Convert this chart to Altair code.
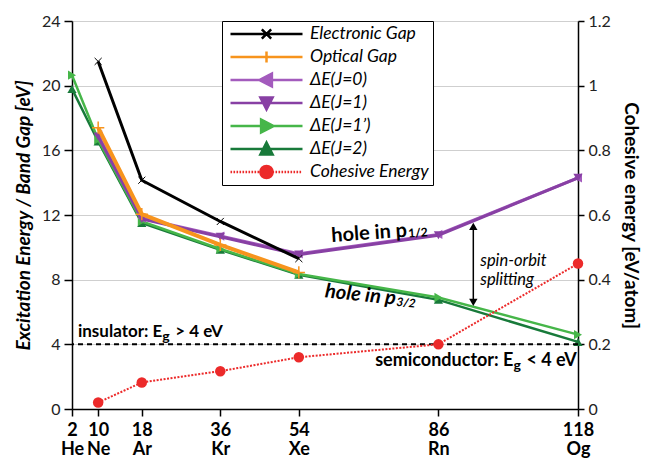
import altair as alt
import pandas as pd

# ---------------- data ----------------
elements = ["He", "Ne", "Ar", "Kr", "Xe", "Rn", "Og"]
atomic_numbers = ["2", "10", "18", "36", "54", "86", "118"]
x_position = [2, 8, 18, 36, 54, 86, 118]          # horizontal position used in the figure

electronic_gap = [None, 21.5, 14.15, 11.6, 9.3, None, None]
optical_gap = [None, 17.4, 12.05, 10.15, 8.45, None, None]
dE_J0 = [None, 16.95, 11.8, 10.7, 9.6, 10.8, 14.3]
dE_J1 = [None, 16.85, 11.75, 10.65, 9.55, 10.75, 14.3]
dE_J1p = [20.65, 16.65, 11.6, 9.9, 8.35, 6.9, 4.6]
dE_J2 = [19.8, 16.55, 11.5, 9.85, 8.3, 6.75, 4.15]
cohesive = [None, 0.02, 0.082, 0.117, 0.16, 0.2, 0.45]

series_names = ["Electronic Gap", "Optical Gap", "ΔE(J=0)", "ΔE(J=1)",
                "ΔE(J=1’)", "ΔE(J=2)", "Cohesive Energy"]
threshold = [4]

left_ticks = [0, 4, 8, 12, 16, 20, 24]
right_ticks = [0, 0.2, 0.4, 0.6, 0.8, 1.0, 1.2]

# ---------------- styles ----------------
colors = ["#000000", "#f7941d", "#a35bbd", "#8840a4", "#46b649", "#187a3a", "#ec2a2a"]
FONT = "Lato"

X_MARK = "M-1,-1L1,1M-1,1L1,-1"
PLUS_MARK = "M-1,0L1,0M0,-1L0,1"


def dotted(n=24):
    segs = []
    for i in range(n):
        a = -1 + i * 3 / 36
        segs.append(f"M{a:.3f},0L{a + 1.6 / 36:.3f},0")
    return "".join(segs)


LINE = "M-1,0L1,0"
legend_paths = [
    LINE + "M-0.13,-0.13L0.13,0.13M-0.13,0.13L0.13,-0.13",
    LINE + "M0,-0.15L0,0.15",
    LINE + "M-0.2,0L0.15,-0.18L0.15,0.18Z",
    LINE + "M-0.17,-0.15L0.17,-0.15L0,0.18Z",
    LINE + "M0.2,0L-0.15,-0.18L-0.15,0.18Z",
    LINE + "M-0.17,0.15L0.17,0.15L0,-0.18Z",
    dotted() + "M0.17,0A0.17,0.17 0 1,1 -0.17,0A0.17,0.17 0 1,1 0.17,0Z",
]

label_expr = ""
for xp, num, el in zip(x_position, atomic_numbers, elements):
    label_expr += f"datum.value == {xp} ? ['{num}', '{el}'] : "
label_expr += "''"

x_enc = alt.X(
    "x:Q",
    scale=alt.Scale(domain=[2, 118], nice=False, zero=False),
    axis=alt.Axis(values=x_position, labelExpr=label_expr, title=None, grid=False,
                  labelFontWeight="bold", labelFontSize=18, labelLineHeight=19.5,
                  labelFlush=False, labelOverlap=False, tickSize=7, labelPadding=5,
                  labelBaseline="top", domainColor="black", tickColor="black",
                  labelColor="black", domainWidth=1.5, tickWidth=1.5, labelFont=FONT),
)

y_left = alt.Y(
    "v:Q",
    scale=alt.Scale(domain=[0, 24], nice=False),
    axis=alt.Axis(values=left_ticks, title="Excitation Energy / Band Gap [eV]",
                  titleFontStyle="italic", titleFontWeight="bold", titleFontSize=19,
                  titleColor="black", titlePadding=8, titleFont=FONT,
                  grid=True, gridColor="#cfcfcf", gridWidth=1.2, tickSize=8,
                  labelFontSize=16, labelColor="#222", labelPadding=4, labelFont=FONT,
                  domainColor="black", tickColor="black", domainWidth=1.5, tickWidth=1.5),
)

y_right = alt.Y(
    "c:Q",
    scale=alt.Scale(domain=[0, 1.2], nice=False),
    axis=alt.Axis(orient="right", values=right_ticks, format=".1~f",
                  title="Cohesive energy [eV/atom]", titleFontWeight="bold",
                  titleFontSize=19, titleColor="black", titlePadding=10, titleFont=FONT,
                  grid=False, tickSize=6, labelFontSize=16, labelColor="#222",
                  labelPadding=4, labelFont=FONT, domainColor="black", tickColor="black",
                  domainWidth=1.5, tickWidth=1.5),
)


def frame(vals, col="v"):
    rows = [{"x": xp, col: v} for xp, v in zip(x_position, vals) if v is not None]
    return pd.DataFrame(rows)


def series(vals, color, width, shape, size, filled=True, pw=1.0):
    df = frame(vals)
    base = alt.Chart(df).encode(x=x_enc, y=y_left)
    line = base.mark_line(color=color, strokeWidth=width)
    pts = base.mark_point(shape=shape, size=size, filled=filled, color=color,
                          opacity=1, strokeWidth=pw)
    return [line, pts]


left_layers = []
left_layers += series(dE_J2, colors[5], 2.5, "triangle-up", 85)
left_layers += series(dE_J1p, colors[4], 2.5, "triangle-right", 85)
left_layers += series(dE_J0, colors[2], 3, "triangle-left", 85)
left_layers += series(dE_J1, colors[3], 3, "triangle-down", 85)
left_layers += series(optical_gap, colors[1], 4, PLUS_MARK, 150, filled=False, pw=1.5)
left_layers += series(electronic_gap, colors[0], 3, X_MARK, 50, filled=False, pw=1)

# dashed 4 eV threshold
left_layers.append(
    alt.Chart(pd.DataFrame({"v": threshold})).mark_rule(
        color="black", strokeDash=[5, 4], strokeWidth=2).encode(y=y_left)
)

# spin-orbit arrow
arrow_df = pd.DataFrame({"x": [94], "v": [11.3], "v2": [6.6]})
left_layers.append(
    alt.Chart(arrow_df).mark_rule(color="black", strokeWidth=1.5).encode(
        x=x_enc, y=y_left, y2=alt.Y2("v2"))
)
left_layers.append(
    alt.Chart(pd.DataFrame({"x": [94], "v": [11.3]})).mark_point(
        shape="triangle-up", size=70, filled=True, color="black", opacity=1).encode(x=x_enc, y=y_left)
)
left_layers.append(
    alt.Chart(pd.DataFrame({"x": [94], "v": [6.6]})).mark_point(
        shape="triangle-down", size=70, filled=True, color="black", opacity=1).encode(x=x_enc, y=y_left)
)


def label(x, v, text, **kw):
    props = dict(font=FONT, color="black", baseline="alphabetic")
    props.update(kw)
    return alt.Chart(pd.DataFrame({"x": [x], "v": [v]})).mark_text(text=text, **props).encode(
        x=x_enc, y=y_left)


# hole in p1/2
left_layers.append(label(78.9, 10.66, "hole in p", align="right", angle=356,
                         fontSize=20, fontWeight="bold"))
left_layers.append(label(78.9, 10.66, "1/2", align="left", angle=356, dx=1, dy=1,
                         fontSize=12, fontWeight="bold"))
# hole in p3/2
left_layers.append(label(76.1, 6.45, "hole in p", align="right", angle=6,
                         fontSize=20, fontWeight="bold", fontStyle="italic"))
left_layers.append(label(76.1, 6.45, "3/2", align="left", angle=6, dx=1, dy=1,
                         fontSize=12, fontWeight="bold", fontStyle="italic"))
# spin-orbit splitting
left_layers.append(label(95.6, 9.16, ["spin-orbit", "splitting"], align="left",
                         baseline="middle", fontSize=16.5, fontStyle="italic", lineHeight=19))
# insulator
left_layers.append(label(22.7, 4.48, "insulator: E", align="right",
                         fontSize=17, fontWeight="bold"))
left_layers.append(label(22.7, 4.48, "g", align="left", dy=4, fontSize=14, fontWeight="bold"))
left_layers.append(label(22.7, 4.48, "> 4 eV", align="left", dx=13, fontSize=17, fontWeight="bold"))
# semiconductor
left_layers.append(label(103.2, 2.63, "semiconductor: E", align="right",
                         fontSize=18, fontWeight="bold"))
left_layers.append(label(103.2, 2.63, "g", align="left", dy=4, fontSize=14, fontWeight="bold"))
left_layers.append(label(103.2, 2.63, "< 4 eV", align="left", dx=13, fontSize=18, fontWeight="bold"))

# legend (driven by explicit scale domains, no marks drawn)
legend_src = pd.DataFrame({"series": series_names, "x": x_position, "v": left_ticks})
leg = alt.Legend(title=None, orient="none", legendX=150, legendY=0, symbolSize=5184,
                 clipHeight=18, rowPadding=5, padding=4, symbolOffset=3, labelOffset=6,
                 labelFontSize=17.5, labelFontStyle="italic", labelFont=FONT,
                 labelColor="black", fillColor="white", strokeColor="black",
                 symbolStrokeWidth=2.5, labelLimit=300)
left_layers.append(
    alt.Chart(legend_src).transform_filter("false").mark_point(
        filled=True, opacity=1, strokeWidth=2.5).encode(
        x=x_enc, y=y_left,
        fill=alt.Fill("series:N", scale=alt.Scale(domain=series_names, range=colors), legend=leg),
        stroke=alt.Stroke("series:N", scale=alt.Scale(domain=series_names, range=colors), legend=leg),
        shape=alt.Shape("series:N", scale=alt.Scale(domain=series_names, range=legend_paths), legend=leg),
    )
)

left = alt.layer(*left_layers)

coh_df = frame(cohesive, "c")
coh_base = alt.Chart(coh_df).encode(x=x_enc, y=y_right)
right = alt.layer(
    coh_base.mark_line(color=colors[6], strokeWidth=2, strokeDash=[2, 1.5]),
    coh_base.mark_circle(color=colors[6], size=110, opacity=1),
)

chart = alt.layer(left, right).resolve_scale(y="independent").properties(
    width=506, height=388,
    autosize=alt.AutoSizeParams(type="none"),
    padding={"left": 72, "top": 21, "right": 70, "bottom": 52},
    background="white",
).configure_view(stroke=None).configure(font=FONT)

chart.save("out.html", embed_options={"renderer": "svg", "actions": False})
